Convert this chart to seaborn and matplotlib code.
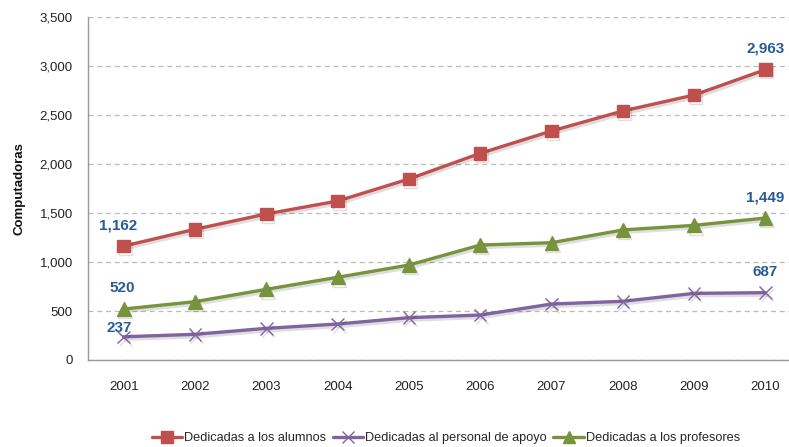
import matplotlib
matplotlib.use("Agg")
import matplotlib.pyplot as plt
import matplotlib.patheffects as pe
from matplotlib.lines import Line2D
import seaborn as sns
import pandas as pd

years = [2001, 2002, 2003, 2004, 2005, 2006, 2007, 2008, 2009, 2010]
alumnos = [1162, 1334, 1490, 1622, 1847, 2109, 2337, 2541, 2704, 2963]
apoyo = [237, 262, 323, 367, 432, 459, 571, 599, 680, 687]
profesores = [520, 595, 721, 844, 969, 1173, 1197, 1327, 1374, 1449]
names = ["Dedicadas a los alumnos", "Dedicadas al personal de apoyo", "Dedicadas a los profesores"]
ylabel = "Computadoras"

sns.set_theme(style="white")
plt.rcParams['font.family'] = ['Liberation Sans', 'DejaVu Sans']

fig = plt.figure(figsize=(7.89, 4.47), dpi=100)
ax = fig.add_axes([88/789, 87/447, 701/789, 343/447])

series = [
    (alumnos, names[0], "#C0504D", "s", 9, 1.0),
    (apoyo, names[1], "#8064A2", "x", 9, 1.0),
    (profesores, names[2], "#77933C", "^", 10, 1.0),
]
shadow = [pe.SimpleLineShadow(offset=(1.2, -1.8), alpha=0.13, shadow_color="black"), pe.Normal()]
handles = []
for vals, name, col, mk, ms, mew in series:
    df = pd.DataFrame({"year": years, "v": vals})
    sns.lineplot(data=df, x="year", y="v", ax=ax, color=col, marker=mk, markersize=ms,
                 markeredgewidth=mew, markeredgecolor=col, linewidth=2.4, zorder=3)
    ax.lines[-1].set_path_effects(shadow)
    handles.append(Line2D([], [], color=col, marker=mk, markersize=ms - 1, markeredgecolor=col,
                          linewidth=2.4, label=name))

lab_col = "#2A5B94"
def lab(x, y, v, dx=0, dy=10):
    ax.annotate(f"{v:,}", (x, y), xytext=(dx, dy), textcoords="offset points",
                ha="center", va="bottom", fontsize=11, fontweight="bold", color=lab_col)

lab(years[0], alumnos[0], alumnos[0], -4)
lab(years[0], profesores[0], profesores[0], -1)
lab(years[0], apoyo[0], apoyo[0], -3, 1)
lab(years[-1], alumnos[-1], alumnos[-1], 0)
lab(years[-1], profesores[-1], profesores[-1], 0)
lab(years[-1], apoyo[-1], apoyo[-1], 0)

ax.set_xlim(2000.5, 2010.33)
ax.set_ylim(0, 3500)
ax.set_yticks(range(0, 3501, 500))
ax.set_yticklabels([f"{v:,}" for v in range(0, 3501, 500)])
ax.set_xticks(years)
ax.set_xticklabels([str(y) for y in years])
ax.tick_params(axis="both", labelsize=9.5, colors="#222222", length=0)
ax.tick_params(axis="x", pad=15)
ax.tick_params(axis="y", pad=11)
ax.grid(axis="y", linestyle=(0, (4, 3)), color="#BBBBBB", linewidth=0.9)
ax.set_axisbelow(True)
ax.set_xlabel("")
ax.set_ylabel(ylabel, fontsize=9.5, fontweight="bold", color="#111111", labelpad=10)
for s in ["top", "right"]:
    ax.spines[s].set_visible(False)
for s in ["left", "bottom"]:
    ax.spines[s].set_color("#999999")
    ax.spines[s].set_linewidth(1.0)

fig.legend(handles=handles, loc="center", bbox_to_anchor=(0.565, 1 - 438/447), ncol=3,
           frameon=False, fontsize=9.2, handlelength=2.4, handletextpad=0.15, columnspacing=0.5)

fig.savefig("out.png", dpi=100)
